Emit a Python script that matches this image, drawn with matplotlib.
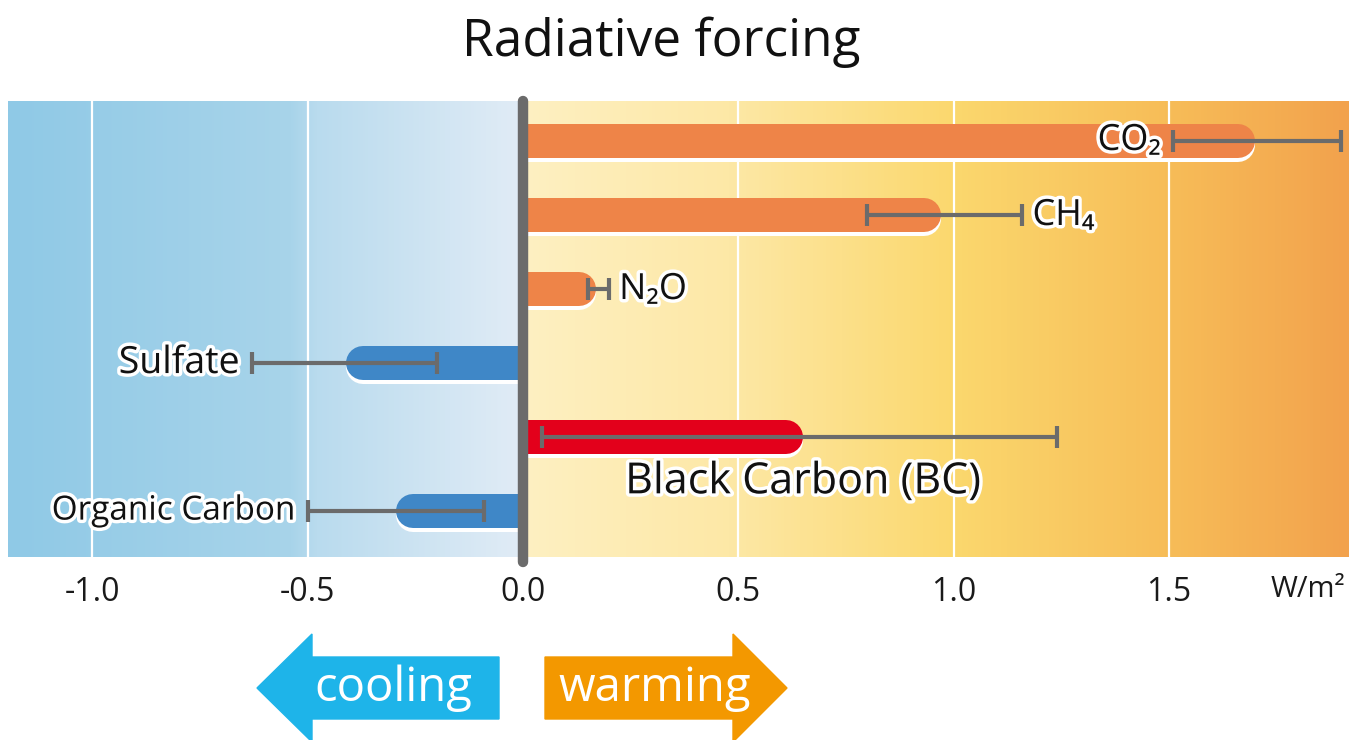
import matplotlib.pyplot as plt
import numpy as np
import matplotlib.patheffects as pe
import matplotlib.transforms as mtransforms
from matplotlib.colors import LinearSegmentedColormap
from matplotlib.patches import Rectangle, Polygon

plt.rcParams['font.family'] = ['Open Sans', 'DejaVu Sans']

# Data (W/m2)
agents = ['CO₂', 'CH₄', 'N₂O', 'Sulfate', 'Black Carbon (BC)', 'Organic Carbon']
forcing = [1.70, 0.97, 0.17, -0.41, 0.65, -0.295]
err_low = [1.51, 0.80, 0.15, -0.63, 0.045, -0.50]
err_high = [1.90, 1.16, 0.20, -0.20, 1.24, -0.09]
bar_colors = ['#ee8448', '#ee8448', '#ee8448', '#3f87c7', '#e3001b', '#3f87c7']
label_sizes = [26, 26, 26, 27, 31, 24]
ticks = [-1.0, -0.5, 0.0, 0.5, 1.0, 1.5]
tick_labels = ['-1.0', '-0.5', '0.0', '0.5', '1.0', '1.5']
unit = 'W/m²'

W, H = 1364, 740
fig = plt.figure(figsize=(W / 100, H / 100), dpi=100)
ax = fig.add_axes([8 / W, 1 - 557 / H, 1340 / W, 456 / H])

xmin, xmax = -1.196, 1.916
n = len(agents)
ypos = np.arange(n)[::-1]
ylo, yhi = -0.62, n - 1 + 0.54

# Background: blue fade on the cooling side, yellow-orange on the warming side
cool_cmap = LinearSegmentedColormap.from_list(
    'cool', [(0, '#8fc9e6'), (0.55, '#a8d4ea'), (0.6, '#b9dbee'), (1, '#e1ecf6')])
warm_cmap = LinearSegmentedColormap.from_list(
    'warm', [(0, '#fdf0c2'), (0.25, '#fde8a6'), (0.52, '#fbd86e'), (0.78, '#f7bd58'), (1, '#f2a24d')])
grad = np.linspace(0, 1, 256)[None, :]
ax.imshow(grad, cmap=cool_cmap, extent=(xmin, 0, ylo, yhi), aspect='auto', zorder=0)
ax.imshow(grad, cmap=warm_cmap, extent=(0, xmax, ylo, yhi), aspect='auto', zorder=0)

for t in ticks:
    if t != 0:
        ax.axvline(t, color='white', lw=1.6, zorder=1)

ax.set_xlim(xmin, xmax)
ax.set_ylim(ylo, yhi)

# Bars: thick lines with a round cap at the outer end
px_per_unit = ax.bbox.width / (xmax - xmin)
bar_px = 34
r = bar_px / 2 / px_per_unit
lw_pt = bar_px * 72 / 100
shadow = mtransforms.offset_copy(ax.transData, fig=fig, x=0, y=-4, units='dots')
outline = [pe.withStroke(linewidth=5, foreground='white')]

for i in range(n):
    y, v = ypos[i], forcing[i]
    s = np.sign(v)
    end = v - s * r
    if v > 0:
        clip = Rectangle((0, ylo - 1), xmax + 1, yhi - ylo + 2, transform=ax.transData)
    else:
        clip = Rectangle((xmin - 1, ylo - 1), -xmin + 1, yhi - ylo + 2, transform=ax.transData)
    sh, = ax.plot([0, end], [y, y], color='white', lw=lw_pt, solid_capstyle='round',
                  transform=shadow, zorder=2)
    sh.set_clip_path(clip)
    bar, = ax.plot([0, end], [y, y], color=bar_colors[i], lw=lw_pt, solid_capstyle='round', zorder=3)
    bar.set_clip_path(clip)
    ax.errorbar(v, y, xerr=[[v - err_low[i]], [err_high[i] - v]], fmt='none',
                ecolor='#6b6b6b', elinewidth=3, capsize=8, capthick=3, zorder=4)

    name = agents[i]
    if name.startswith('Black'):
        ax.annotate(name, (v, y), xytext=(0, -45), textcoords='offset pixels',
                    ha='center', va='center', fontsize=label_sizes[i], color='#111',
                    path_effects=outline, zorder=6)
    elif name in ('CH₄', 'N₂O'):
        ax.annotate(name, (err_high[i], y), xytext=(10, -1), textcoords='offset pixels',
                    ha='left', va='center', fontsize=label_sizes[i], color='#111',
                    path_effects=outline, zorder=6)
    else:
        ax.annotate(name, (err_low[i], y), xytext=(-12, 0), textcoords='offset pixels',
                    ha='right', va='center', fontsize=label_sizes[i], color='#111',
                    path_effects=outline, zorder=6)

# Zero axis line
blend = mtransforms.blended_transform_factory(ax.transData, ax.transAxes)
ax.plot([0, 0], [-0.01, 1.0], transform=blend, color='#6b6b6b', lw=7.5,
        solid_capstyle='round', clip_on=False, zorder=5)

ax.set_xticks(ticks, tick_labels)
ax.set_yticks([])
ax.tick_params(axis='x', length=0, pad=14, labelsize=23, labelcolor='#1a1a1a')
for sp in ax.spines.values():
    sp.set_visible(False)
ax.text(1.822, -0.072, unit, transform=blend, ha='center', va='center', fontsize=21, color='#1a1a1a')

fig.text(661 / W, 1 - 42 / H, 'Radiative forcing', ha='center', va='center', fontsize=37, color='#111')


# cooling / warming arrows, drawn in figure pixel space
def px(x, y):
    return (x / W, 1 - y / H)


cy = 688
cool_pts = [px(257, cy), px(312, cy - 54), px(312, cy - 31), px(499, cy - 31),
            px(499, cy + 31), px(312, cy + 31), px(312, cy + 54)]
warm_pts = [px(787, cy), px(733, cy - 54), px(733, cy - 31), px(545, cy - 31),
            px(545, cy + 31), px(733, cy + 31), px(733, cy + 54)]
fig.patches.append(Polygon(cool_pts, closed=True, color='#1eb4e9', transform=fig.transFigure))
fig.patches.append(Polygon(warm_pts, closed=True, color='#f39800', transform=fig.transFigure))
fig.text(393 / W, 1 - cy / H, 'cooling', ha='center', va='center', fontsize=34, color='white')
fig.text(655 / W, 1 - cy / H, 'warming', ha='center', va='center', fontsize=34, color='white')

fig.savefig('out.png', dpi=100)
